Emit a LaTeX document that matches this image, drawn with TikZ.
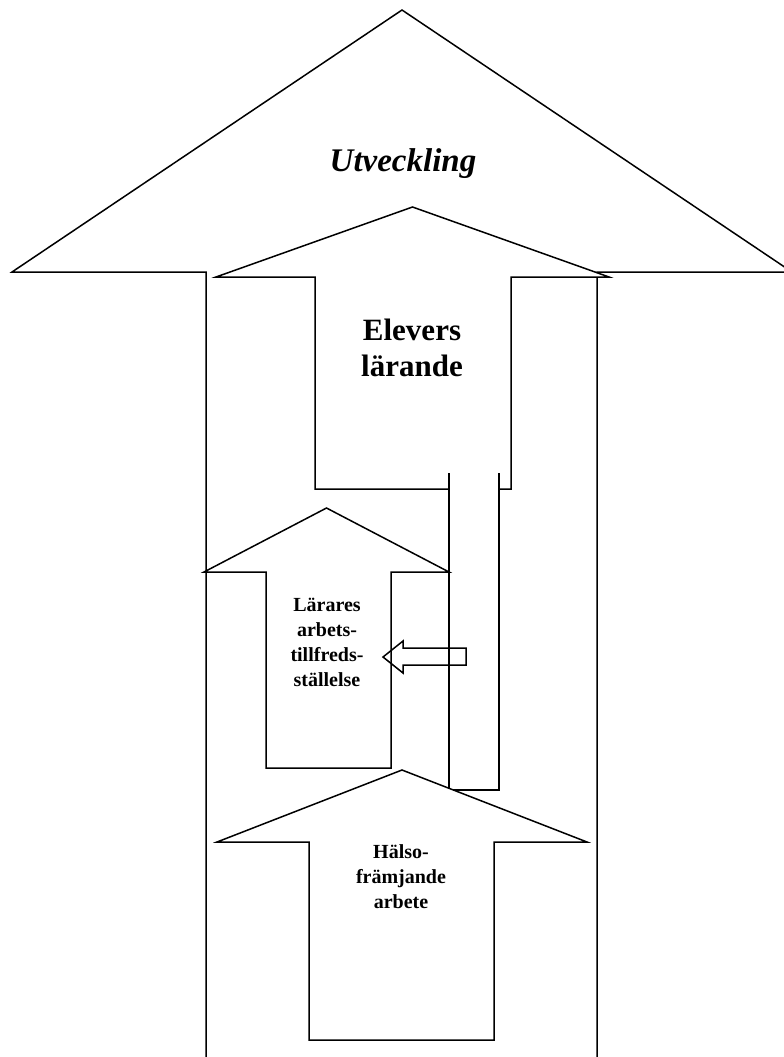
\documentclass[tikz,border=0pt]{standalone}
\usepackage{fontspec}
\setmainfont{Liberation Serif}
\begin{document}
\begin{tikzpicture}[x=1pt,y=-1pt,
  arrowshape/.style={draw=black, fill=white, line width=1.5pt, line join=miter},
  outline/.style={draw=black, line width=1.5pt, line join=miter},
  biglabel/.style={font=\bfseries\itshape\fontsize{33}{36}\selectfont, inner sep=0pt},
  midlabel/.style={font=\bfseries\fontsize{31}{36}\selectfont, align=center, inner sep=0pt},
  smalllabel/.style={font=\bfseries\fontsize{20}{25}\selectfont, align=center, inner sep=0pt}]
\useasboundingbox (0,0) rectangle (784,1057);
\clip (0,0) rectangle (784,1057);

% outer arrow: Utveckling
\draw[arrowshape] (206,1080) -- (206,272) -- (12,272) -- (402,10) -- (792,272)
  -- (597,272) -- (597,1080);

% arrow: Elevers laerande
\draw[arrowshape] (315,489) -- (315,277) -- (216,277) -- (412.5,207) -- (609,277)
  -- (511,277) -- (511,489) -- cycle;

% upright bar linking the inner arrows
\fill[white] (449,473) rectangle (499,790);
\draw[outline] (449,473) -- (449,790) -- (499,790) -- (499,473);

% arrow: Laerares arbetstillfredsstaellelse
\draw[arrowshape] (266,768) -- (266,572) -- (204,572) -- (326.5,508) -- (449,572)
  -- (391,572) -- (391,768) -- cycle;

% arrow: Haelsofraemjande arbete
\draw[arrowshape] (309,1040) -- (309,842) -- (217,842) -- (402,770) -- (587,842)
  -- (494,842) -- (494,1040) -- cycle;

% small left-pointing arrow
\draw[outline] (466,648) -- (403,648) -- (403,641) -- (383,657) -- (403,673)
  -- (403,665) -- (466,665) -- cycle;

% labels
\node[biglabel, anchor=base] (utv) at (403,171) {Utveckling};
\node[midlabel] (elev) at (412,348) {Elevers\\lärande};
\node[smalllabel] (lar) at (327,642) {Lärares\\arbets-\\tillfreds-\\ställelse};
\node[smalllabel] (hal) at (401,877) {Hälso-\\främjande\\arbete};
\end{tikzpicture}
\end{document}
